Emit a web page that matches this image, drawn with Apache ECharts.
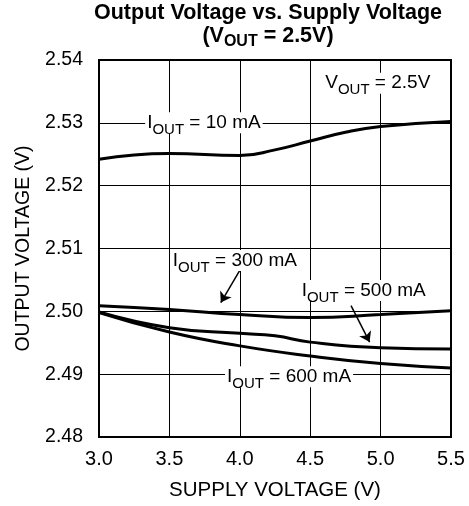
<!DOCTYPE html>
<html>
<head>
<meta charset="utf-8">
<script src="https://cdn.jsdelivr.net/npm/echarts@6/dist/echarts.min.js"></script>
<style>html,body{margin:0;padding:0;background:#fff;}#c{width:469px;height:506px;}</style>
</head>
<body>
<div id="c"></div>
<script>
var xTicks = [3.0, 3.5, 4.0, 4.5, 5.0, 5.5];
var yTicks = [2.48, 2.49, 2.50, 2.51, 2.52, 2.53, 2.54];

var vin10 = [3.0, 3.5, 4.0, 4.25, 4.5, 4.75, 5.0, 5.5];
var vout10 = [2.5242, 2.5251, 2.5248, 2.5257, 2.5271, 2.5285, 2.5294, 2.5302];

var vin300 = [3.0, 3.5, 4.0, 4.5, 5.0, 5.5];
var vout300 = [2.5009, 2.5003, 2.4995, 2.4990, 2.4995, 2.5001];

var vin500 = [3.0, 3.5, 4.0, 4.25, 4.5, 5.0, 5.5];
var vout500 = [2.4999, 2.4974, 2.4965, 2.4961, 2.4951, 2.4942, 2.4940];

var vin600 = [3.0, 3.5, 4.0, 4.5, 5.0, 5.5];
var vout600 = [2.4998, 2.4967, 2.4945, 2.4929, 2.4917, 2.4910];

var labelTexts = ['10 mA', '300 mA', '500 mA', '600 mA'];
var labelX = [3.745, 3.965, 4.88, 4.35];
var labelY = [2.5300, 2.5081, 2.5033, 2.4896];

var arrowFrom = [[4.0, 2.5065], [4.79, 2.5009]];
var arrowTo = [[3.865, 2.5014], [4.922, 2.4951]];

function pairs(xs, ys) { return xs.map(function (x, i) { return [x, ys[i]]; }); }

var FONT = 'Liberation Sans, Arial, sans-serif';
var rich = {
  n: { fontSize: 19, fontFamily: FONT, color: '#000', lineHeight: 21 },
  s: { fontSize: 15, fontFamily: FONT, color: '#000', lineHeight: 17, padding: [14, 0, 0, 0] }
};

var lineStyle = { color: '#000', width: 3 };
function mkSeries(name, xs, ys) {
  return {
    name: name, type: 'line', smooth: 0.5, symbol: 'none',
    data: pairs(xs, ys), lineStyle: lineStyle, silent: true, animation: false
  };
}

var series = [
  mkSeries('10', vin10, vout10),
  mkSeries('300', vin300, vout300),
  mkSeries('500', vin500, vout500),
  mkSeries('600', vin600, vout600)
];

var mpData = labelTexts.map(function (t, i) {
  return {
    coord: [labelX[i], labelY[i]],
    label: { formatter: '{n|I}{s|OUT}{n| = ' + t + '}' }
  };
});
mpData.push({
  coord: [4.98, 2.5363],
  label: { formatter: '{n|V}{s|OUT}{n| = 2.5V}' }
});

series.push({
  type: 'line', data: [], silent: true, animation: false,
  markPoint: {
    symbol: 'rect', symbolSize: 0, silent: true, animation: false,
    label: { show: true, position: 'inside', backgroundColor: '#fff', padding: [0, 2, 0, 2], rich: rich },
    data: mpData
  },
  markLine: {
    symbol: ['none', 'arrow'], symbolSize: 10, silent: true, animation: false,
    lineStyle: { color: '#000', width: 1.5, type: 'solid' },
    label: { show: false },
    data: arrowFrom.map(function (f, i) { return [{ coord: f }, { coord: arrowTo[i] }]; })
  }
});

var chart = echarts.init(document.getElementById('c'), null, { renderer: 'canvas' });
chart.setOption({
  animation: false,
  backgroundColor: '#fff',
  grid: { left: 99, right: 18, top: 60, bottom: 69, show: true, borderColor: '#000', borderWidth: 2, backgroundColor: 'transparent' },
  graphic: [{
    type: 'text', x: 268, y: 2, silent: true,
    style: {
      text: '{b|Output Voltage vs. Supply Voltage}\n{b|(V}{bs|OUT}{b| = 2.5V)}',
      align: 'center',
      rich: {
        b: { fontSize: 21.5, fontWeight: 'bold', fontFamily: FONT, fill: '#000', lineHeight: 23 },
        bs: { fontSize: 16, fontWeight: 'bold', fontFamily: FONT, fill: '#000', lineHeight: 18, padding: [10, 0, 0, 0] }
      }
    }
  }],
  xAxis: {
    type: 'value', min: 3.0, max: 5.5, interval: 0.5,
    name: 'SUPPLY VOLTAGE (V)', nameLocation: 'middle', nameGap: 43,
    nameTextStyle: { fontSize: 20.5, fontFamily: FONT, color: '#000' },
    axisLine: { show: false }, axisTick: { show: false },
    axisLabel: { fontSize: 20, fontFamily: FONT, color: '#000', margin: 12, formatter: function (v) { return v.toFixed(1); } },
    splitLine: { show: true, lineStyle: { color: '#000', width: 1 } }
  },
  yAxis: {
    type: 'value', min: 2.48, max: 2.54, interval: 0.01,
    name: 'OUTPUT VOLTAGE (V)', nameLocation: 'middle', nameGap: 65,
    nameTextStyle: { fontSize: 19.5, fontFamily: FONT, color: '#000' },
    axisLine: { show: false }, axisTick: { show: false },
    axisLabel: { fontSize: 19.5, fontFamily: FONT, color: '#000', margin: 16, formatter: function (v) { return v.toFixed(2); } },
    splitLine: { show: true, lineStyle: { color: '#000', width: 1 } }
  },
  series: series
});
</script>
</body>
</html>
